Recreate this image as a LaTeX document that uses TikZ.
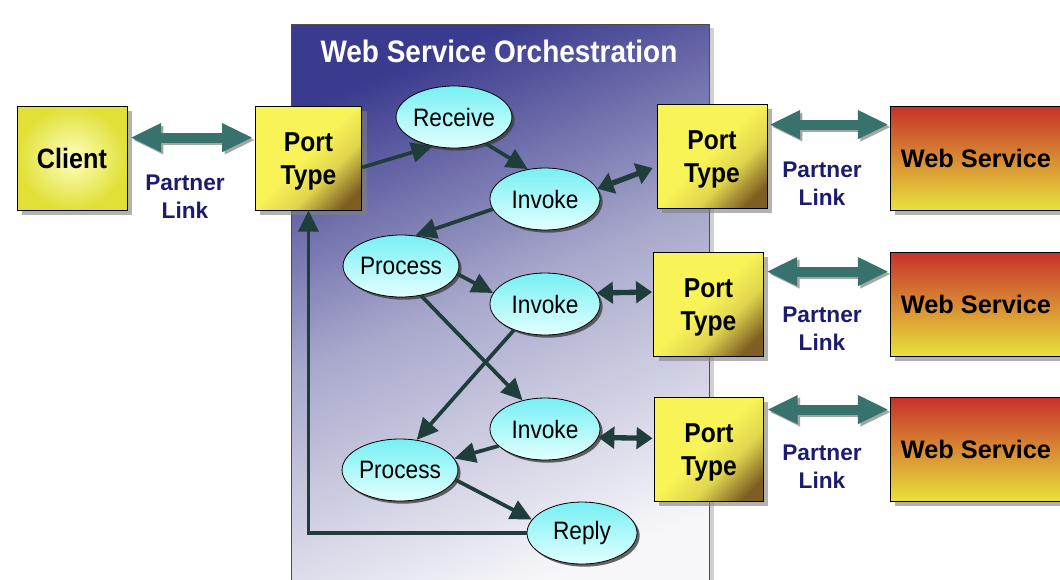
\documentclass[tikz,border=0pt]{standalone}
\usepackage{fontspec}
\setmainfont{Liberation Sans}
\newfontfamily\narrowfont[FakeStretch=0.9]{Liberation Sans}
\usetikzlibrary{arrows.meta,shadows,calc,shapes.geometric}
\definecolor{ptop}{HTML}{3A3A8E}
\definecolor{pmid}{HTML}{A8A8CC}
\definecolor{pbot}{HTML}{F7F7FA}
\definecolor{ylw}{HTML}{F8F458}
\definecolor{brn}{HTML}{7E5E22}
\definecolor{cly}{HTML}{FFFFC0}
\definecolor{clo}{HTML}{E0E036}
\definecolor{cyt}{HTML}{76F0F4}
\definecolor{cyb}{HTML}{E4FFFF}
\definecolor{wsr}{HTML}{C8302A}
\definecolor{wso}{HTML}{DE8A32}
\definecolor{wsy}{HTML}{E8E23C}
\definecolor{flowc}{HTML}{1F3E3B}
\definecolor{linkc}{HTML}{37736C}
\definecolor{navy}{HTML}{1C1C6E}
\pgfdeclareverticalshading{panelshade}{100bp}{color(0bp)=(pbot); color(25bp)=(pbot); color(52bp)=(pmid); color(75bp)=(ptop); color(100bp)=(ptop)}
\pgfdeclareverticalshading{portshade}{100bp}{color(0bp)=(brn); color(22bp)=(brn); color(38bp)=(ylw!80!brn); color(52bp)=(ylw); color(100bp)=(ylw)}
\begin{document}
\begin{tikzpicture}[x=0.75pt,y=-0.75pt,
  boxshadow/.style={drop shadow={shadow xshift=3.5pt,shadow yshift=-3.5pt,fill=black!50,opacity=.6}},
  boxbase/.style={draw=black,line width=0.6pt,inner sep=0pt,align=center,minimum height=78pt,boxshadow,
     font=\narrowfont\bfseries\fontsize{20.5}{24.75}\selectfont},
  clientbox/.style={boxbase,minimum width=82.5pt,inner color=cly,outer color=clo,font=\narrowfont\bfseries\fontsize{21}{24}\selectfont},
  portbox/.style={boxbase,shade,shading=portshade,shading angle=45},
  wsbox/.style={boxbase,minimum width=129pt,top color=wsr,middle color=wso,bottom color=wsy,font=\bfseries\fontsize{19}{24}\selectfont},
  act/.style={ellipse,draw=black,line width=0.6pt,inner sep=0pt,minimum width=82.5pt,minimum height=46.5pt,
     top color=cyt,bottom color=cyb,font=\narrowfont\fontsize{18.9}{22}\selectfont,
     drop shadow={shadow xshift=2pt,shadow yshift=-2pt,fill=black!75,opacity=.8}},
  flow/.style={draw=flowc,line width=2.8pt,-{Triangle[length=16pt,width=15pt]}},
  bilink/.style={draw=flowc,line width=4pt,{Triangle[length=12pt,width=16pt]}-{Triangle[length=12pt,width=16pt]}},
  plink/.style={draw=linkc,line width=7.5pt,{Triangle[length=23pt,width=20pt]}-{Triangle[length=23pt,width=20pt]}},
  plinkshadow/.style={draw=black!35,line width=7.5pt,{Triangle[length=23pt,width=20pt]}-{Triangle[length=23pt,width=20pt]},
     transform canvas={xshift=1.8pt,yshift=-1.8pt}},
  plabel/.style={text=navy,align=center,font=\bfseries\fontsize{17}{21}\selectfont},
  title/.style={text=white,font=\narrowfont\bfseries\fontsize{23.3}{26}\selectfont}
]
\useasboundingbox (0,0) rectangle (1060,579);
\clip (0,0) rectangle (1060,579);
\fill[white] (0,0) rectangle (1060,579);
% orchestration panel
\path[shade,shading=panelshade,shading angle=22,draw=black!70,line width=0.6pt,
  drop shadow={shadow xshift=4pt,shadow yshift=-3pt,fill=black!30,opacity=.6}] (291,24) rectangle (709,600);
\node[title] (ttl) at (499,51) {Web Service Orchestration};

% boxes
\node[clientbox] (client) at (72,158) {Client};
\node[portbox,minimum width=80pt] (pl) at (308.5,158) {\rule{0pt}{19pt}Port\\Type};
\node[portbox,minimum width=82.5pt] (pt1) at (712,156) {\rule{0pt}{19pt}Port\\Type};
\node[portbox,minimum width=82pt] (pt2) at (708.5,304) {\rule{0pt}{19pt}Port\\Type};
\node[portbox,minimum width=82pt] (pt3) at (709,449) {\rule{0pt}{19pt}Port\\Type};
\node[wsbox] (ws1) at (976,158) {Web Service};
\node[wsbox] (ws2) at (976,304) {Web Service};
\node[wsbox] (ws3) at (976,449) {Web Service};

% activities
\node[act] (rec) at (454,117) {Receive};
\node[act] (inv1) at (545,199) {Invoke};
\node[act] (proc1) at (401,266) {Process};
\node[act] (inv2) at (545,304) {Invoke};
\node[act] (inv3) at (545,429) {Invoke};
\node[act] (proc2) at (400,470) {Process};
\node[act] (reply) at (582,533) {Reply};

% partner links
\coordinate (c0a) at ($(client.north east)+(3,32)$);
\coordinate (c0b) at ($(pl.north west)+(-2,32)$);
\coordinate (c1a) at ($(pt1.north east)+(2,21)$);
\coordinate (c1b) at ($(ws1.north west)+(-1,19)$);
\coordinate (c2a) at ($(pt2.north east)+(3,20)$);
\coordinate (c2b) at ($(ws2.north west)+(-1,20)$);
\coordinate (c3a) at ($(pt3.north east)+(3,13)$);
\coordinate (c3b) at ($(ws3.north west)+(-1,13)$);
\foreach \a/\b in {c0a/c0b,c1a/c1b,c2a/c2b,c3a/c3b}{
  \draw[plinkshadow] (\a) -- (\b);
  \draw[plink] (\a) -- (\b);
}
\node[plabel] (lab0) at (185,197) {Partner\\Link};
\node[plabel] (lab1) at (822,184) {Partner\\Link};
\node[plabel] (lab2) at (822,329) {Partner\\Link};
\node[plabel] (lab3) at (822,467) {Partner\\Link};

% flows
\draw[flow] ([yshift=-7pt]pl.east) -- (rec.234);
\draw[flow] (rec.320) -- (inv1.120);
\draw[flow] (inv1.191) -- (proc1.65);
\draw[flow] (proc1.352) -- (inv2.168);
\draw[flow] (proc1.304) -- (inv3.128);
\draw[flow] (inv2.220) -- (proc2.61);
\draw[flow] (inv3.200) -- (proc2.12);
\draw[flow] (proc2.350) -- (reply.165);
\draw[flow] (reply.west) -| (pl.south);

% invoke <-> port type
\draw[bilink] (inv1.11) -- ([yshift=-9pt,xshift=-3pt]pt1.west);
\draw[bilink] (inv2.12) -- ([yshift=9pt,xshift=-1pt]pt2.west);
\draw[bilink] (inv3.351) -- ([yshift=8pt,xshift=-1pt]pt3.west);
\end{tikzpicture}
\end{document}
